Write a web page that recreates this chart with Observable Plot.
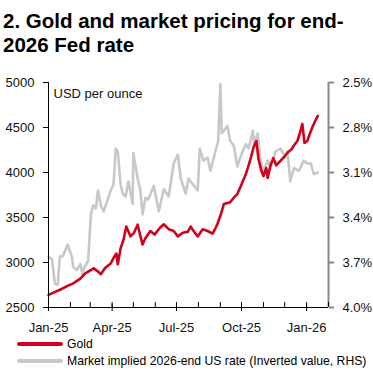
<!DOCTYPE html>
<html><head><meta charset="utf-8">
<script src="https://cdn.jsdelivr.net/npm/d3@7"></script>
<script src="https://cdn.jsdelivr.net/npm/@observablehq/plot@0.6"></script>
<style>
body{margin:0;background:#fff;font-family:"Liberation Sans",Arial,sans-serif;color:#000;position:relative;width:373px;height:372px;overflow:hidden}
#title{font-weight:bold;font-size:20.5px;line-height:24px;padding:9px 0 0 3px;height:62px;box-sizing:border-box;white-space:nowrap}
#chart svg{display:block}
.leg{position:absolute;left:17px;display:flex;align-items:center;font-size:12.2px;height:16px;white-space:nowrap}
.sw{display:inline-block;width:46px;height:4px;border-radius:2px;margin-right:4px}
</style></head>
<body>
<div id="title">2. Gold and market pricing for end-<br>2026 Fed rate</div>
<div id="chart"></div>
<div class="leg" style="top:336px"><span class="sw" style="background:#d0021b"></span>Gold</div>
<div class="leg" style="top:353px"><span class="sw" style="background:#c8c8c8"></span>Market implied 2026-end US rate (Inverted value, RHS)</div>
<script>
const goldDates = ["2025-01-01","2025-01-08","2025-01-18","2025-01-28","2025-02-05","2025-02-15","2025-02-22","2025-03-06","2025-03-12","2025-03-16","2025-03-22","2025-03-30","2025-04-03","2025-04-07","2025-04-09","2025-04-13","2025-04-17","2025-04-21","2025-04-27","2025-05-02","2025-05-07","2025-05-14","2025-05-18","2025-05-25","2025-05-31","2025-06-07","2025-06-13","2025-06-20","2025-06-27","2025-07-03","2025-07-10","2025-07-17","2025-07-21","2025-07-26","2025-07-31","2025-08-07","2025-08-14","2025-08-21","2025-08-25","2025-08-28","2025-09-02","2025-09-06","2025-09-15","2025-09-20","2025-09-25","2025-09-30","2025-10-07","2025-10-11","2025-10-14","2025-10-18","2025-10-22","2025-10-25","2025-10-29","2025-11-01","2025-11-05","2025-11-07","2025-11-11","2025-11-15","2025-11-19","2025-11-25","2025-12-01","2025-12-05","2025-12-11","2025-12-14","2025-12-19","2025-12-23","2025-12-26","2025-12-29","2026-01-02","2026-01-06","2026-01-09","2026-01-13","2026-01-17"];
const goldValues = [2640,2665,2700,2740,2768,2820,2880,2935,2900,2870,2940,2990,3050,3100,2980,3160,3250,3400,3290,3330,3420,3200,3270,3350,3310,3380,3425,3370,3350,3290,3330,3340,3400,3340,3290,3370,3350,3320,3380,3430,3540,3650,3670,3720,3760,3850,3980,4080,4160,4280,4350,4150,4020,3960,4050,3940,4080,4160,4080,4130,4180,4220,4260,4300,4350,4450,4540,4330,4350,4440,4500,4570,4630];

const rateDates = ["2025-01-01","2025-01-06","2025-01-10","2025-01-14","2025-01-17","2025-01-21","2025-01-28","2025-02-03","2025-02-05","2025-02-10","2025-02-15","2025-02-18","2025-02-20","2025-02-26","2025-03-02","2025-03-05","2025-03-09","2025-03-12","2025-03-16","2025-03-20","2025-03-25","2025-03-30","2025-04-03","2025-04-06","2025-04-09","2025-04-13","2025-04-16","2025-04-20","2025-04-24","2025-04-30","2025-05-01","2025-05-07","2025-05-11","2025-05-14","2025-05-18","2025-05-22","2025-05-30","2025-06-06","2025-06-13","2025-06-20","2025-06-27","2025-07-03","2025-07-07","2025-07-14","2025-07-18","2025-07-21","2025-07-31","2025-08-03","2025-08-08","2025-08-14","2025-08-18","2025-08-25","2025-08-29","2025-09-01","2025-09-03","2025-09-11","2025-09-15","2025-09-20","2025-09-25","2025-09-30","2025-10-07","2025-10-11","2025-10-17","2025-10-19","2025-10-24","2025-10-28","2025-11-01","2025-11-07","2025-11-11","2025-11-18","2025-11-25","2025-12-02","2025-12-05","2025-12-09","2025-12-14","2025-12-21","2025-12-28","2026-01-02","2026-01-07","2026-01-11","2026-01-17"];
const rateValues = [3.66,3.68,3.84,3.85,3.66,3.66,3.58,3.66,3.73,3.75,3.71,3.78,3.74,3.69,3.38,3.32,3.34,3.22,3.32,3.36,3.29,3.22,3.18,2.94,2.96,3.18,3.24,3.26,3.16,3.31,2.97,3.14,3.22,3.38,3.27,3.28,3.19,3.36,3.21,3.26,3.04,2.98,3.14,3.24,3.14,3.16,3.22,2.94,3.02,3.00,3.09,2.96,2.89,2.51,2.84,2.79,2.89,2.92,3.06,2.99,2.91,2.94,2.82,2.91,2.84,3.02,3.09,3.02,3.07,2.96,2.94,3.00,2.96,3.16,3.07,3.09,3.02,3.04,3.04,3.11,3.10];

const goldTicks = [2500,3000,3500,4000,4500,5000];
const rateTicks = [4.0,3.7,3.4,3.1,2.8,2.5];
const xDomain = ["2025-01-01","2026-02-01"];
const quarterTicks = ["2025-01-01","2025-04-01","2025-07-01","2025-10-01","2026-01-01"];

const parse = d3.utcParse("%Y-%m-%d");
// map inverted rate (RHS, 4.0% bottom .. 2.5% top) onto the gold scale
const rateToGold = r => 2500 + (4.0 - r) / 1.5 * 2500;

const gold = goldDates.map((d, i) => ({date: parse(d), value: goldValues[i]}));
const rate = rateDates.map((d, i) => ({date: parse(d), value: rateToGold(rateValues[i])}));
const months = d3.utcMonth.range(parse(xDomain[0]), d3.utcDay.offset(parse(xDomain[1]), 1));
const quarters = quarterTicks.map(parse);

const chart = Plot.plot({
  width: 373,
  height: 275,
  marginTop: 20,
  marginBottom: 30,
  marginLeft: 48,
  marginRight: 45,
  style: {fontFamily: "'Liberation Sans', Arial, sans-serif", fontSize: "13px", color: "#000", background: "#fff", overflow: "visible"},
  x: {type: "utc", domain: xDomain.map(parse), axis: null},
  y: {domain: [2500, 5000], axis: null},
  marks: [
    Plot.line(rate, {x: "date", y: "value", stroke: "#c8c8c8", strokeWidth: 2.6, curve: "linear"}),
    Plot.line(gold, {x: "date", y: "value", stroke: "#d0021b", strokeWidth: 2.6, curve: "linear"}),
    Plot.ruleX([parse(xDomain[0])], {stroke: "#000", strokeWidth: 1}),
    Plot.ruleX([parse(xDomain[1])], {stroke: "#888", strokeWidth: 2}),
    Plot.ruleY([2500], {stroke: "#000", strokeWidth: 1.2}),
    Plot.axisY({anchor: "left", label: null, ticks: goldTicks, tickSize: 5, tickPadding: 9, fontSize: 13, stroke: "#000", fill: "#111", tickFormat: d => String(d)}),
    Plot.axisY({anchor: "right", label: null, ticks: goldTicks, tickSize: 5, tickPadding: 9, fontSize: 13, stroke: "#888", strokeWidth: 2, fill: "#111",
      tickFormat: (d, i) => rateTicks[i].toFixed(1) + "%"}),
    Plot.axisX({anchor: "bottom", label: null, ticks: months, tickSize: 5, dy: -5, stroke: "#000", tickFormat: () => ""}),
    Plot.axisX({anchor: "bottom", label: null, ticks: quarters, tickSize: 7, dy: -3, stroke: "#000", tickFormat: () => ""}),
    Plot.axisX({anchor: "bottom", label: null, ticks: quarters, tickSize: 0, tickPadding: 15, fontSize: 13, fill: "#111", tickFormat: d3.utcFormat("%b-%y")}),
    Plot.text(["USD per ounce"], {frameAnchor: "top-left", textAnchor: "start", lineAnchor: "top", dx: 5, dy: 6, fontSize: 13, fill: "#111"})
  ]
});
document.getElementById("chart").appendChild(chart);
</script>
</body></html>
